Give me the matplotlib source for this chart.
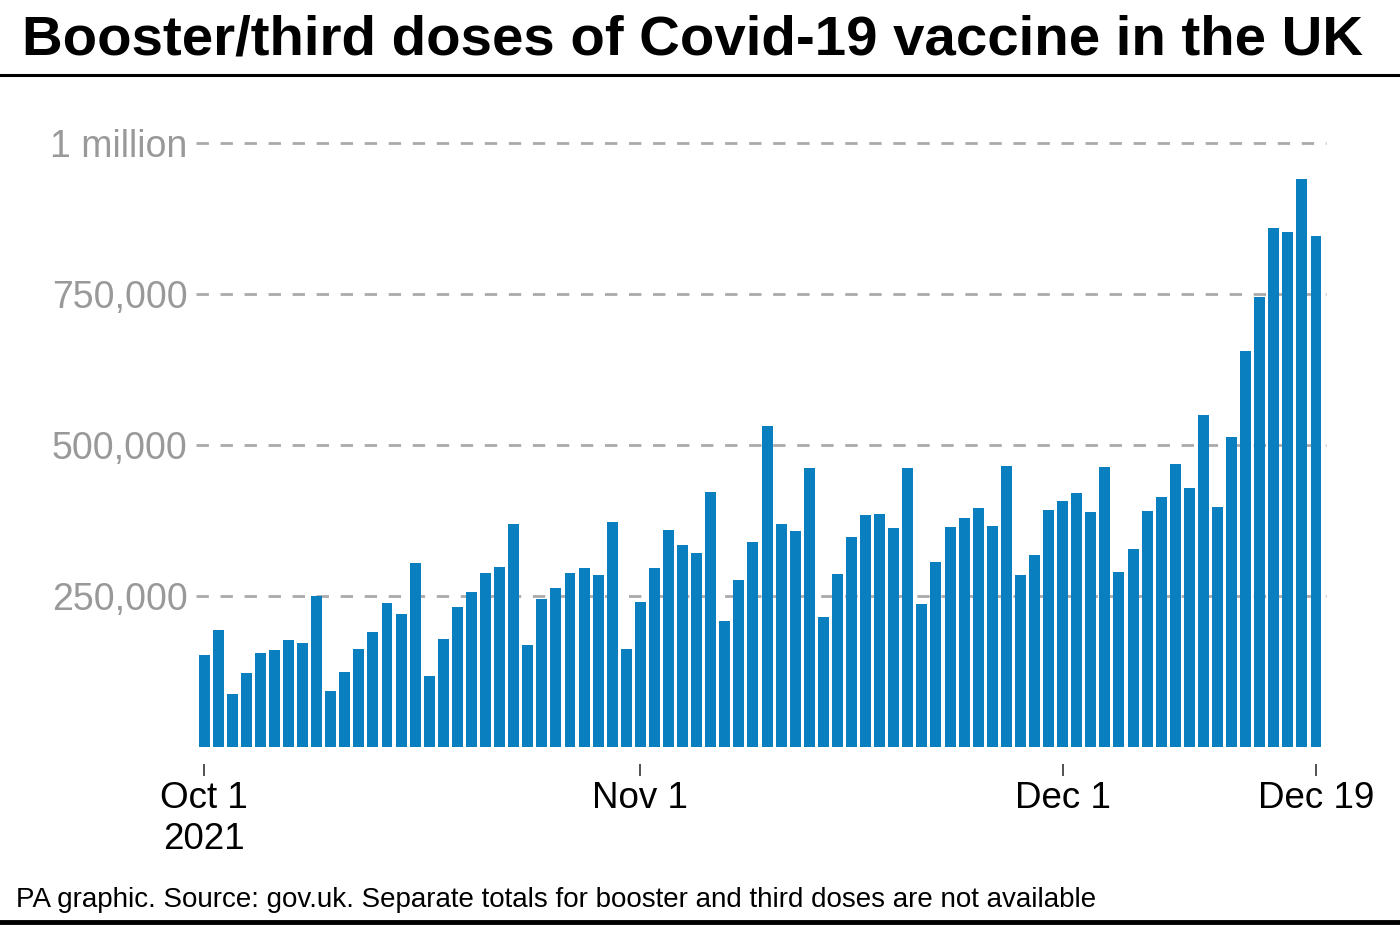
import matplotlib
matplotlib.use("Agg")
import matplotlib.pyplot as plt
import pandas as pd
import numpy as np

# ---- data (daily booster/third doses) ----
start_date = "2021-10-01"
end_date = "2021-12-19"
doses = [
    # October
    153000, 194000, 88000, 122000, 155000, 161000, 177000, 173000, 250000, 93000,
    124000, 163000, 191000, 238000, 220000, 305000, 117000, 178000, 231000, 257000,
    288000, 298000, 370000, 169000, 245000, 263000, 288000, 297000, 285000, 372000,
    163000,
    # November
    240000, 296000, 359000, 334000, 322000, 422000, 209000, 276000, 339000, 532000,
    370000, 357000, 462000, 216000, 286000, 347000, 384000, 386000, 363000, 462000,
    237000, 307000, 365000, 379000, 396000, 366000, 465000, 285000, 318000, 393000,
    # December
    407000, 420000, 389000, 463000, 290000, 328000, 391000, 414000, 469000, 428000,
    550000, 397000, 513000, 656000, 745000, 860000, 852000, 940000, 846000,
]
y_ticks = [250000, 500000, 750000, 1000000]
y_tick_labels = ["250,000", "500,000", "750,000", "1 million"]
x_tick_dates = ["2021-10-01", "2021-11-01", "2021-12-01", "2021-12-19"]
x_tick_labels = ["Oct 1\n2021", "Nov 1", "Dec 1", "Dec 19"]

title = "Booster/third doses of Covid-19 vaccine in the UK"
footer = "PA graphic. Source: gov.uk. Separate totals for booster and third doses are not available"

# ---- style ----
plt.rcParams["font.family"] = ["Liberation Sans", "DejaVu Sans"]
plt.rcParams["lines.scale_dashes"] = False

W, H = 1400, 930
fig = plt.figure(figsize=(W / 100, H / 100), dpi=100)

dates = pd.date_range(start_date, end_date, freq="D")

# axes placement in pixel terms
ax_left, ax_right = 196, 1326
ax_top, ax_bottom = 143, 747
ax = fig.add_axes([ax_left / W, 1 - ax_bottom / H, (ax_right - ax_left) / W, (ax_bottom - ax_top) / H])

ax.bar(dates, doses, width=0.78, color="#0a7fc0", zorder=3)

ax.set_ylim(0, 1000000)
ax.set_xlim(dates[0] - pd.Timedelta(hours=0.57 * 24), dates[-1] + pd.Timedelta(hours=0.71 * 24))

ax.set_yticks(y_ticks)
ax.set_yticklabels(y_tick_labels)
ax.yaxis.grid(True, color="#aaaaaa", linewidth=2.0, linestyle=(0, (8.9, 8.4)), zorder=0)
ax.set_axisbelow(True)
for gl in ax.get_ygridlines():
    gl.set_clip_on(False)
ax.tick_params(axis="y", length=0, pad=6, labelsize=27, labelcolor="#999999")

ax.set_xticks(pd.to_datetime(x_tick_dates))
ax.set_xticklabels(x_tick_labels)
ax.tick_params(axis="x", length=8.6, width=1.1, color="#222222", pad=4, labelsize=26.5,
               labelcolor="black", direction="out")
for lbl in ax.get_xticklabels():
    lbl.set_linespacing(1.0)

for s in ["top", "right", "left"]:
    ax.spines[s].set_visible(False)
ax.spines["bottom"].set_position(("outward", 12))
ax.spines["bottom"].set_visible(False)

# ---- title, rules, footer ----
fig.text(22 / W, 1 - 55 / H, title, fontsize=40.6, fontweight="bold", color="black",
         ha="left", va="baseline")
fig.add_artist(plt.Line2D([0, 1], [1 - 75.5 / H, 1 - 75.5 / H], color="black", linewidth=2.2,
                          transform=fig.transFigure))
fig.text(16 / W, 1 - 906.5 / H, footer, fontsize=20.0, color="black", ha="left", va="baseline")
fig.add_artist(plt.Line2D([0, 1], [1 - 922 / H, 1 - 922 / H], color="black", linewidth=3.5,
                          transform=fig.transFigure))

fig.savefig("out.png", dpi=100)
